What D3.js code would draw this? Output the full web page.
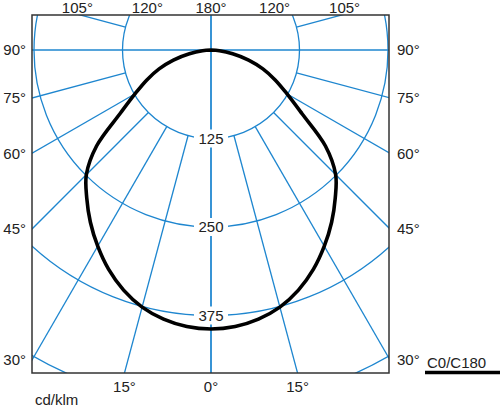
<!DOCTYPE html>
<html>
<head>
<meta charset="utf-8">
<script src="https://cdn.jsdelivr.net/npm/d3@7"></script>
<style>
  html, body { margin: 0; padding: 0; background: #fff; }
  svg { display: block; font-family: "Liberation Sans", Arial, sans-serif; }
</style>
</head>
<body>
<svg id="chart" width="500" height="409"></svg>
<script>
// ---- data ----
const curveAngles = [0, 5, 10, 15, 20, 25, 30, 35, 40, 45, 50, 55, 60, 65, 70, 75, 80, 85, 90];
const intensityC0C180 = [394, 392, 386, 376, 361, 342, 320, 297, 273, 249, 211, 157, 124, 100, 78, 55, 31, 12, 0];
const ringValues = [125, 250, 375, 500];
const ringLabels = ["125", "250", "375"];
const rayAngles = [0, 15, 30, 45, 60, 75, 90, 105, 120, 135, 150, 165, 180];
const sideLabelAngles = [90, 75, 60, 45, 30];
const topLabelAngles = [105, 120];
const bottomLabelAngles = [15];
const unitLabel = "cd/klm";
const legendLabel = "C0/C180";

// ---- layout ----
const svg = d3.select("#chart");
const box = { x0: 32, x1: 389, y0: 15, y1: 373 };
const cx = 211, cy = 50;
const rScale = d3.scaleLinear().domain([0, 500]).range([0, 354]);
const blue = "#1e86cf";
const rad = d => d * Math.PI / 180;
const pt = (deg, R, s) => [cx + s * R * Math.sin(rad(deg)), cy + R * Math.cos(rad(deg))];

svg.append("defs").append("clipPath").attr("id", "boxclip")
  .append("rect").attr("x", box.x0).attr("y", box.y0)
  .attr("width", box.x1 - box.x0).attr("height", box.y1 - box.y0);

const grid = svg.append("g").attr("clip-path", "url(#boxclip)");

// rings
grid.selectAll("circle.ring").data(ringValues).join("circle")
  .attr("class", "ring")
  .attr("cx", cx).attr("cy", cy).attr("r", d => rScale(d))
  .attr("fill", "none").attr("stroke", blue).attr("stroke-width", 1.3);

// rays
const rays = [];
rayAngles.forEach(a => {
  [-1, 1].forEach(s => {
    const full = (a === 0 || a === 90 || a === 180);
    rays.push({ a, s, r0: full ? 0 : rScale(125), r1: rScale(1000) });
  });
});
grid.selectAll("line.ray").data(rays).join("line")
  .attr("class", "ray")
  .attr("x1", d => pt(d.a, d.r0, d.s)[0]).attr("y1", d => pt(d.a, d.r0, d.s)[1])
  .attr("x2", d => pt(d.a, d.r1, d.s)[0]).attr("y2", d => pt(d.a, d.r1, d.s)[1])
  .attr("stroke", blue).attr("stroke-width", 1.3);

// ring labels with white background
const ringG = svg.append("g");
ringLabels.forEach((t, i) => {
  const y = cy + rScale(ringValues[i]);
  ringG.append("rect").attr("x", cx - 17).attr("y", y - 9).attr("width", 34).attr("height", 18).attr("fill", "#fff");
  ringG.append("text").attr("x", cx).attr("y", y).attr("dy", "0.36em")
    .attr("text-anchor", "middle").attr("font-size", 15).attr("fill", "#222").text(t);
});

// intensity curve
const pts = [];
for (let i = curveAngles.length - 1; i >= 0; i--) {
  pts.push(pt(curveAngles[i], rScale(intensityC0C180[i]), -1));
}
for (let i = 1; i < curveAngles.length; i++) {
  pts.push(pt(curveAngles[i], rScale(intensityC0C180[i]), 1));
}
svg.append("path")
  .attr("d", d3.line().curve(d3.curveCatmullRom.alpha(0.5))(pts))
  .attr("fill", "none").attr("stroke", "#000").attr("stroke-width", 3.6)
  .attr("stroke-linejoin", "round");

// frame
svg.append("rect").attr("x", box.x0).attr("y", box.y0)
  .attr("width", box.x1 - box.x0).attr("height", box.y1 - box.y0)
  .attr("fill", "none").attr("stroke", "#333").attr("stroke-width", 1.5);

const lab = svg.append("g").attr("font-size", 15).attr("fill", "#222");

// side labels
sideLabelAngles.forEach(a => {
  const y = cy + (cx - box.x0) / Math.tan(rad(a));
  lab.append("text").attr("x", 26).attr("y", y).attr("dy", "0.36em").attr("text-anchor", "end").text(a + "°");
  lab.append("text").attr("x", 397).attr("y", y).attr("dy", "0.36em").attr("text-anchor", "start").text(a + "°");
});

// top labels
lab.append("text").attr("x", cx).attr("y", 13).attr("text-anchor", "middle").text("180°");
topLabelAngles.forEach(a => {
  const dx = (cy - box.y0) * Math.tan(rad(180 - a));
  [-1, 1].forEach(s => {
    lab.append("text").attr("x", cx + s * (dx + 3)).attr("y", 13).attr("text-anchor", "middle").text(a + "°");
  });
});

// bottom labels
lab.append("text").attr("x", cx).attr("y", 392).attr("text-anchor", "middle").text("0°");
bottomLabelAngles.forEach(a => {
  const dx = (box.y1 - cy) * Math.tan(rad(a));
  [-1, 1].forEach(s => {
    lab.append("text").attr("x", cx + s * dx).attr("y", 392).attr("text-anchor", "middle").text(a + "°");
  });
});

// unit and legend
lab.append("text").attr("x", 35).attr("y", 405).text(unitLabel);
lab.append("text").attr("x", 427).attr("y", 368).text(legendLabel);
svg.append("line").attr("x1", 425).attr("x2", 500).attr("y1", 372.5).attr("y2", 372.5)
  .attr("stroke", "#000").attr("stroke-width", 3.5);
</script>
</body>
</html>
